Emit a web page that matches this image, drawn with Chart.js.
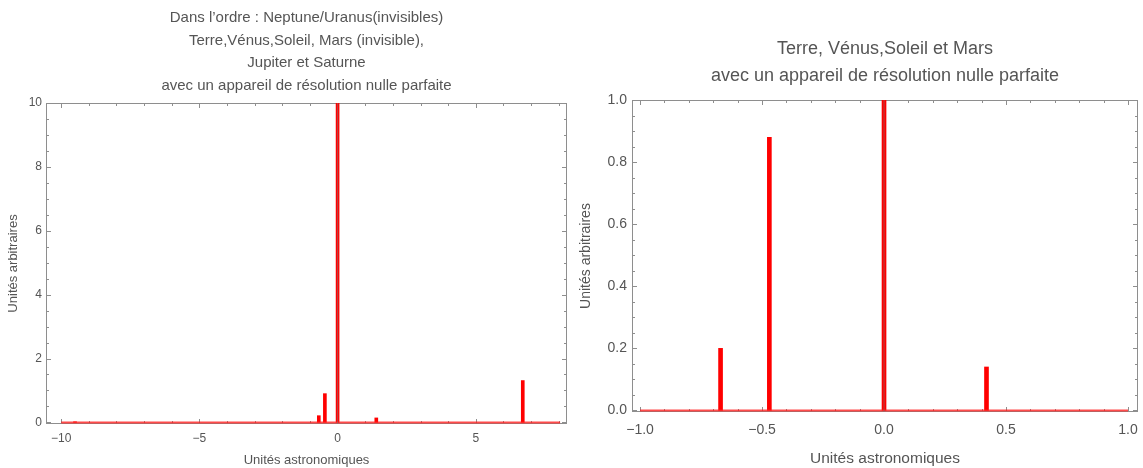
<!DOCTYPE html>
<html>
<head>
<meta charset="utf-8">
<script src="https://cdn.jsdelivr.net/npm/chart.js@4/dist/chart.umd.min.js"></script>
<style>
  body { margin: 0; background: #fff; width: 1143px; height: 468px; position: relative; overflow: hidden; }
  .box { position: absolute; top: 0; height: 468px; }
</style>
</head>
<body>
<div class="box" style="left:0;width:575px"><canvas id="leftChart"></canvas></div>
<div class="box" style="left:575px;width:568px"><canvas id="rightChart"></canvas></div>
<script>
// left chart: whole system
const leftPos = [-9.5, -0.68, -0.46, 0, 1.4, 6.7];
const leftVal = [0.02, 0.21, 0.9, 10, 0.14, 1.31];
const leftBase = [-10, 8.05];
const leftXTicks = [-10, -5, 0, 5];
const leftYTicks = [0, 2, 4, 6, 8, 10];

// right chart: inner planets
const rightPos = [-0.67, -0.47, 0, 0.42];
const rightVal = [0.2, 0.88, 10, 0.14];
const rightBase = [-1, 1];
const rightXTicks = [-1, -0.5, 0, 0.5, 1];
const rightYTicks = [0, 0.2, 0.4, 0.6, 0.8, 1];

const grey = '#555';
const frameCol = '#8e8e8e';

// Mathematica-like frame with inward ticks on all sides
const framePlugin = {
  id: 'frame',
  beforeDatasetsDraw(chart, args, o) {
    const { ctx, chartArea: a, scales: { x, y } } = chart;
    ctx.save();
    ctx.strokeStyle = frameCol;
    ctx.lineWidth = 1;
    ctx.strokeRect(Math.round(a.left) + 0.5, Math.round(a.top) + 0.5,
      Math.round(a.right - a.left) - 1, Math.round(a.bottom - a.top) - 1);
    ctx.beginPath();
    const eps = 1e-9;
    for (let v = o.xMin; v <= x.max + eps; v += o.xMinor) {
      const px = Math.round(x.getPixelForValue(v)) + 0.5;
      if (px < a.left || px > a.right) continue;
      const major = o.xMajor.some(m => Math.abs(m - v) < 1e-6);
      const len = major ? 5 : 3;
      ctx.moveTo(px, a.bottom); ctx.lineTo(px, a.bottom - len);
      ctx.moveTo(px, a.top); ctx.lineTo(px, a.top + len);
    }
    for (let v = 0; v <= y.max + eps; v += o.yMinor) {
      const py = Math.round(y.getPixelForValue(v)) + 0.5;
      const major = o.yMajor.some(m => Math.abs(m - v) < 1e-6);
      const len = major ? 5 : 3;
      ctx.moveTo(a.left, py); ctx.lineTo(a.left + len, py);
      ctx.moveTo(a.right, py); ctx.lineTo(a.right - len, py);
    }
    ctx.stroke();
    ctx.restore();
  },
  afterDatasetsDraw(chart) {
    // thin grey axis through x = 0
    const { ctx, chartArea: a, scales: { x } } = chart;
    const px = x.getPixelForValue(0);
    ctx.save();
    ctx.strokeStyle = 'rgba(120,120,120,0.6)';
    ctx.lineWidth = 1;
    ctx.beginPath();
    ctx.moveTo(px, a.top); ctx.lineTo(px, a.bottom);
    ctx.stroke();
    ctx.restore();
  }
};

const fmt = (d) => (v) => {
  const s = Math.abs(v).toFixed(d);
  return v < 0 ? '\u2212' + s : s;
};

function makeChart(id, cfg) {
  return new Chart(document.getElementById(id), {
    type: 'bar',
    data: {
      datasets: [
        {
          type: 'bar',
          data: cfg.pos.map((p, i) => ({ x: p, y: cfg.val[i] })),
          backgroundColor: '#ff0000',
          borderWidth: 0,
          barThickness: cfg.barW,
          grouped: false,
          order: 1
        },
        {
          type: 'line',
          data: cfg.base.map(p => ({ x: p, y: 0 })),
          borderColor: 'rgba(255,30,30,0.8)',
          borderWidth: 2,
          pointRadius: 0,
          order: 0
        }
      ]
    },
    options: {
      responsive: true,
      maintainAspectRatio: false,
      animation: false,
      layout: { padding: { left: 0, right: cfg.padRight, top: 0, bottom: 0 } },
      scales: {
        x: {
          type: 'linear',
          offset: false,
          min: cfg.xMin,
          max: cfg.xMax,
          afterBuildTicks: s => { s.ticks = cfg.xTicks.map(v => ({ value: v })); },
          afterFit: s => { s.height = cfg.xH; s.paddingLeft = 0; s.paddingRight = 0; },
          grid: { display: false, drawTicks: false },
          border: { display: false },
          ticks: { color: grey, font: { family: 'Liberation Sans', size: cfg.tickSize }, padding: cfg.xTickPad, maxRotation: 0, callback: fmt(cfg.xDec) },
          title: { display: true, text: 'Unités astronomiques', color: grey, font: { family: 'Liberation Sans', size: cfg.axTitleSize }, padding: { top: 0, bottom: cfg.xTitlePad } }
        },
        y: {
          min: cfg.yMin,
          max: cfg.yMax,
          afterBuildTicks: s => { s.ticks = cfg.yTicks.map(v => ({ value: v })); },
          afterFit: s => { s.width = cfg.yW; s.paddingTop = 0; s.paddingBottom = 0; },
          grid: { display: false, drawTicks: false },
          border: { display: false },
          ticks: { color: grey, font: { family: 'Liberation Sans', size: cfg.tickSize }, padding: cfg.yTickPad, callback: fmt(cfg.yDec) },
          title: { display: true, text: 'Unités arbitraires', color: grey, font: { family: 'Liberation Sans', size: cfg.yTitleSize }, padding: { top: cfg.yTitlePad, bottom: 0 } }
        }
      },
      plugins: {
        legend: { display: false },
        tooltip: { enabled: false },
        title: {
          display: true,
          fullSize: false,
          text: cfg.title,
          color: grey,
          font: { family: 'Liberation Sans', size: cfg.titleSize, weight: 'normal', lineHeight: cfg.titleLH },
          padding: cfg.titlePad
        },
        frame: {
          xMin: cfg.base[0], xMinor: cfg.xMinor, xMajor: cfg.xTicks,
          yMinor: cfg.yMinor, yMajor: cfg.yTicks
        }
      }
    },
    plugins: [framePlugin]
  });
}

makeChart('leftChart', {
  pos: leftPos, val: leftVal, base: leftBase,
  xTicks: leftXTicks, yTicks: leftYTicks,
  xMin: -10.55, xMax: 8.3, yMin: -0.05, yMax: 10,
  xMinor: 1, yMinor: 0.5, xDec: 0, yDec: 0,
  barW: 3, padRight: 8, xH: 44, yW: 46,
  tickSize: 12, xTickPad: 7, yTickPad: 4,
  axTitleSize: 13, xTitlePad: 0, yTitleSize: 13, yTitlePad: 6,
  title: ['Dans l\u2019ordre : Neptune/Uranus(invisibles)', 'Terre,Vénus,Soleil, Mars (invisible),', 'Jupiter et Saturne', 'avec un appareil de résolution nulle parfaite'],
  titleSize: 15, titleLH: 1.5, titlePad: { top: 7, bottom: 6 }
});

makeChart('rightChart', {
  pos: rightPos, val: rightVal, base: rightBase,
  xTicks: rightXTicks, yTicks: rightYTicks,
  xMin: -1.033, xMax: 1.041, yMin: -0.005, yMax: 1,
  xMinor: 0.1, yMinor: 0.05, xDec: 1, yDec: 1,
  barW: 4, padRight: 5, xH: 56, yW: 57,
  tickSize: 14, xTickPad: 10, yTickPad: 5,
  axTitleSize: 15.5, xTitlePad: 0, yTitleSize: 14, yTitlePad: 3,
  title: ['Terre, Vénus,Soleil et Mars', 'avec un appareil de résolution nulle parfaite'],
  titleSize: 18, titleLH: 1.5, titlePad: { top: 36, bottom: 10 }
});
</script>
</body>
</html>
